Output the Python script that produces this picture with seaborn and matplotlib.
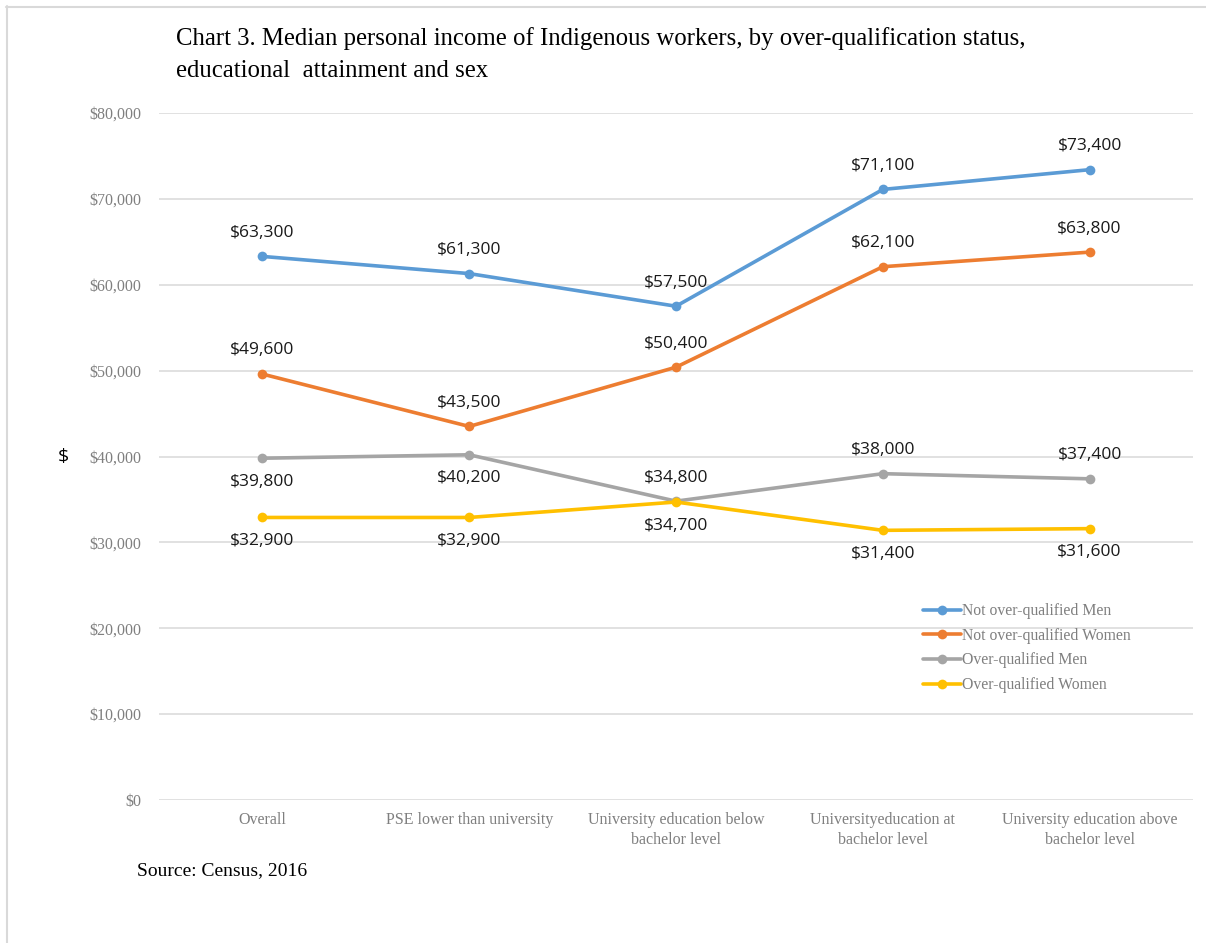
import numpy as np
import pandas as pd
import seaborn as sns
import matplotlib.pyplot as plt
from matplotlib.lines import Line2D
from matplotlib.ticker import FuncFormatter

# ------------------------------------------------------------
# Chart 3: median personal income of Indigenous workers
# ------------------------------------------------------------

categories = [
    "Overall",
    "PSE lower than university",
    "University education below\nbachelor level",
    "Universityeducation at\nbachelor level",
    "University education above\nbachelor level",
]

series_names = [
    "Not over-qualified Men",
    "Not over-qualified Women",
    "Over-qualified Men",
    "Over-qualified Women",
]

not_oq_men = [63300, 61300, 57500, 71100, 73400]
not_oq_women = [49600, 43500, 50400, 62100, 63800]
oq_men = [39800, 40200, 34800, 38000, 37400]
oq_women = [32900, 32900, 34700, 31400, 31600]

# label placement: +1 above the point, -1 below
label_side = {
    "Not over-qualified Men": [1, 1, 1, 1, 1],
    "Not over-qualified Women": [1, 1, 1, 1, 1],
    "Over-qualified Men": [-1, -1, 1, 1, 1],
    "Over-qualified Women": [-1, -1, -1, -1, -1],
}

COLORS = ["#5B9BD5", "#ED7D31", "#A5A5A5", "#FFC000"]

SERIF = ["Liberation Serif", "DejaVu Serif"]
SANS = ["Open Sans", "Liberation Sans", "DejaVu Sans"]


def main():
    sns.set_theme(style="white")
    plt.rcParams["font.family"] = SERIF

    df = pd.DataFrame({
        "Category": categories * 4,
        "Series": np.repeat(series_names, len(categories)),
        "Income": not_oq_men + not_oq_women + oq_men + oq_women,
    })
    df["x"] = df["Category"].map({c: i for i, c in enumerate(categories)})

    fig = plt.figure(figsize=(12.06, 9.43), dpi=100)
    ax = fig.add_axes([159 / 1206, 1 - 800 / 943, 1034 / 1206, 687 / 943])

    sns.lineplot(
        data=df,
        x="x",
        y="Income",
        hue="Series",
        hue_order=series_names,
        palette=COLORS,
        marker="o",
        markersize=7,
        markeredgewidth=0,
        linewidth=2.6,
        legend=False,
        ax=ax,
        zorder=3,
    )

    for name, color in zip(series_names, COLORS):
        sub = df[df["Series"] == name]
        for (_, row), side in zip(sub.iterrows(), label_side[name]):
            ax.annotate(
                f"${row['Income']:,.0f}",
                (row["x"], row["Income"]),
                xytext=(0, 17 * side),
                textcoords="offset points",
                ha="center",
                va="center",
                fontsize=12.5,
                family=SANS,
                color="#1a1a1a",
                zorder=5,
            )

    ax.set_xlim(-0.5, len(categories) - 0.5)
    ax.set_ylim(0, 80000)
    ax.set_yticks(np.arange(0, 80001, 10000))
    ax.yaxis.set_major_formatter(FuncFormatter(lambda v, p: f"${v:,.0f}"))
    ax.set_xticks(range(len(categories)))
    ax.set_xticklabels(categories, linespacing=1.3)
    ax.tick_params(axis="both", labelsize=11.5, colors="#7f7f7f", length=0)
    ax.tick_params(axis="x", pad=9)
    ax.tick_params(axis="y", pad=13)
    ax.grid(axis="y", color="#d9d9d9", linewidth=1.1)
    ax.set_axisbelow(True)
    for s in ax.spines.values():
        s.set_visible(False)
    ax.set_xlabel("")
    ax.set_ylabel("")

    fig.text(63 / 1206, 1 - 457 / 943, "$", fontsize=14, family=SANS,
             ha="center", va="center", color="black")

    handles = [
        Line2D([0], [0], color=c, linewidth=2.6, marker="o", markersize=7,
               markeredgewidth=0)
        for c in COLORS
    ]
    fig.legend(
        handles,
        series_names,
        loc="upper left",
        bbox_to_anchor=(909 / 1206, 1 - 589 / 943),
        frameon=False,
        fontsize=11.3,
        labelcolor="#7f7f7f",
        handlelength=2.4,
        handletextpad=0.1,
        labelspacing=0.55,
    )

    fig.text(176 / 1206, 1 - 39 / 943,
             "Chart 3. Median personal income of Indigenous workers, by over-qualification status,",
             fontsize=17.8, ha="left", va="center", color="black")
    fig.text(176 / 1206, 1 - 71 / 943,
             "educational  attainment and sex",
             fontsize=17.8, ha="left", va="center", color="black")

    fig.text(137 / 1206, 1 - 871 / 943, "Source: Census, 2016",
             fontsize=14, ha="left", va="center", color="black")

    # thin frame along the top and left edges
    fig.add_artist(Line2D([6 / 1206, 1], [1 - 6.5 / 943] * 2,
                          color="#d9d9d9", linewidth=1.5, transform=fig.transFigure))
    fig.add_artist(Line2D([6.5 / 1206] * 2, [0, 1 - 6 / 943],
                          color="#d9d9d9", linewidth=1.5, transform=fig.transFigure))

    fig.savefig("out.png", dpi=100, facecolor="white")
    plt.close(fig)


if __name__ == "__main__":
    main()
